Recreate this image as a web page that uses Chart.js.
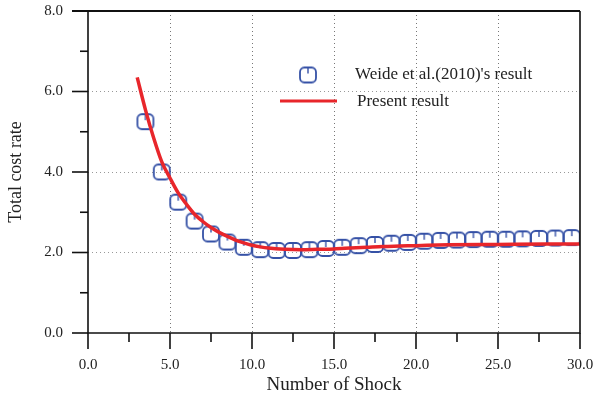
<!DOCTYPE html>
<html>
<head>
<meta charset="utf-8">
<script src="https://cdn.jsdelivr.net/npm/chart.js@4/dist/chart.umd.min.js"></script>
<style>
  html, body { margin: 0; padding: 0; background: #fff; }
  #wrap { width: 603px; height: 398px; }
</style>
</head>
<body>
<div id="wrap"><canvas id="myChart" width="603" height="398"></canvas></div>
<script>
// Weide et al. (2010) markers
const weideX = [3.5, 4.5, 5.5, 6.5, 7.5, 8.5, 9.5, 10.5, 11.5, 12.5, 13.5, 14.5, 15.5, 16.5,
  17.5, 18.5, 19.5, 20.5, 21.5, 22.5, 23.5, 24.5, 25.5, 26.5, 27.5, 28.5, 29.5];
const weideY = [5.25, 4.0, 3.25, 2.78, 2.46, 2.26, 2.13, 2.07, 2.05, 2.05, 2.07, 2.1, 2.13, 2.17,
  2.2, 2.23, 2.25, 2.28, 2.3, 2.31, 2.32, 2.33, 2.33, 2.34, 2.35, 2.36, 2.37];

// present result curve
const presentX = [3.0, 3.5, 4.0, 4.5, 5.0, 5.5, 6.0, 6.5, 7.0, 7.5, 8.0, 8.5, 9.0, 9.5, 10.0,
  10.5, 11.0, 12.0, 13.0, 14.0, 15.0, 16.0, 17.0, 18.0, 19.0, 20.0, 22.0, 25.0, 28.0, 30.0];
const presentY = [6.35, 5.55, 4.85, 4.25, 3.85, 3.48, 3.2, 2.95, 2.77, 2.62, 2.5, 2.4, 2.31, 2.24, 2.18,
  2.14, 2.11, 2.08, 2.07, 2.08, 2.09, 2.11, 2.13, 2.15, 2.16, 2.17, 2.19, 2.2, 2.21, 2.21];

const xTicks = [0, 5, 10, 15, 20, 25, 30];
const yTicks = [0, 2, 4, 6, 8];

const blue = '#3551a6';
const red = '#e8262b';
const serif = '"Liberation Serif", "Times New Roman", serif';

// marker: rounded square with small tick at top
function makeMarker() {
  const c = document.createElement('canvas');
  c.width = 20; c.height = 19;
  const g = c.getContext('2d');
  g.strokeStyle = blue;
  g.lineWidth = 1.8;
  g.beginPath();
  g.roundRect(2, 2, 16, 15, 4.5);
  g.stroke();
  g.lineWidth = 1.4;
  g.beginPath();
  g.moveTo(10, 2);
  g.lineTo(10, 8);
  g.stroke();
  return c;
}
const marker = makeMarker();

function noPad(s) {
  s.paddingLeft = 0; s.paddingRight = 0; s.paddingTop = 0; s.paddingBottom = 0;
}

const frame = {
  id: 'frame',
  afterDraw(chart) {
    const ctx = chart.ctx;
    const x = chart.scales.x, y = chart.scales.y;
    const L = x.left, R = x.right, T = y.top, B = y.bottom;
    ctx.save();
    ctx.strokeStyle = '#111';
    ctx.lineWidth = 1.6;
    ctx.beginPath();
    ctx.moveTo(L, T); ctx.lineTo(L, B); ctx.lineTo(R, B); ctx.lineTo(R, T);
    ctx.stroke();
    ctx.lineWidth = 2.2;
    ctx.beginPath();
    ctx.moveTo(L - 16, T); ctx.lineTo(R, T);
    ctx.stroke();
    ctx.lineWidth = 1.6;
    // x ticks
    for (let v = 0; v <= 30; v += 2.5) {
      const px = x.getPixelForValue(v);
      const len = (v % 5 === 0) ? 16 : 9;
      ctx.beginPath(); ctx.moveTo(px, B); ctx.lineTo(px, B + len); ctx.stroke();
    }
    // y ticks
    for (let v = 0; v <= 8; v += 1) {
      const py = y.getPixelForValue(v);
      const len = (v % 2 === 0) ? 16 : 8;
      ctx.beginPath(); ctx.moveTo(L, py); ctx.lineTo(L - len, py); ctx.stroke();
    }
    // legend
    ctx.drawImage(marker, 308 - 10, 75 - 9.5);
    ctx.fillStyle = '#222';
    ctx.font = '17px ' + serif;
    ctx.textBaseline = 'middle';
    ctx.fillText("Weide et al.(2010)'s result", 355, 75);
    ctx.fillText('Present result', 357, 102);
    ctx.strokeStyle = red;
    ctx.lineWidth = 3;
    ctx.beginPath(); ctx.moveTo(280, 101); ctx.lineTo(337, 101); ctx.stroke();
    ctx.restore();
  }
};

new Chart(document.getElementById('myChart'), {
  type: 'scatter',
  data: {
    datasets: [
      {
        label: 'Present result',
        data: presentX.map((v, i) => ({ x: v, y: presentY[i] })),
        showLine: true,
        borderColor: red,
        borderWidth: 3.5,
        pointRadius: 0,
        cubicInterpolationMode: 'monotone',
        order: 0
      },
      {
        label: "Weide et al.(2010)'s result",
        data: weideX.map((v, i) => ({ x: v, y: weideY[i] })),
        showLine: false,
        pointStyle: marker,
        order: 1
      }
    ]
  },
  options: {
    responsive: false,
    animation: false,
    layout: { padding: { left: 0, right: 23, top: 11, bottom: 0 } },
    plugins: { legend: { display: false }, tooltip: { enabled: false } },
    scales: {
      x: {
        type: 'linear',
        min: 0, max: 30,
        afterBuildTicks: (s) => { s.ticks = xTicks.map(v => ({ value: v })); },
        afterFit: (s) => { s.height = 65; noPad(s); },
        ticks: {
          padding: 23,
          color: '#222',
          font: { family: serif, size: 15 },
          maxRotation: 0,
          callback: (v) => v.toFixed(1)
        },
        grid: {
          drawTicks: false,
          color: (c) => (c.tick && c.tick.value > 0 && c.tick.value < 30) ? '#777' : 'rgba(0,0,0,0)',
          lineWidth: 1
        },
        border: { display: false, dash: [1, 3] },
        title: {
          display: true,
          text: 'Number of Shock',
          color: '#222',
          font: { family: serif, size: 19 },
          padding: { top: 0, bottom: 2 }
        }
      },
      y: {
        type: 'linear',
        min: 0, max: 8,
        afterBuildTicks: (s) => { s.ticks = yTicks.map(v => ({ value: v })); },
        afterFit: (s) => { s.width = 88; noPad(s); },
        ticks: {
          padding: 25,
          color: '#222',
          font: { family: serif, size: 15 },
          callback: (v) => v.toFixed(1)
        },
        grid: {
          drawTicks: false,
          color: (c) => (c.tick && c.tick.value > 0 && c.tick.value < 8) ? '#999' : 'rgba(0,0,0,0)',
          lineWidth: 1
        },
        border: { display: false, dash: [1, 3] },
        title: {
          display: true,
          text: 'Total cost rate',
          color: '#222',
          font: { family: serif, size: 18 },
          padding: { top: 5, bottom: 0 }
        }
      }
    }
  },
  plugins: [frame]
});
</script>
</body>
</html>
